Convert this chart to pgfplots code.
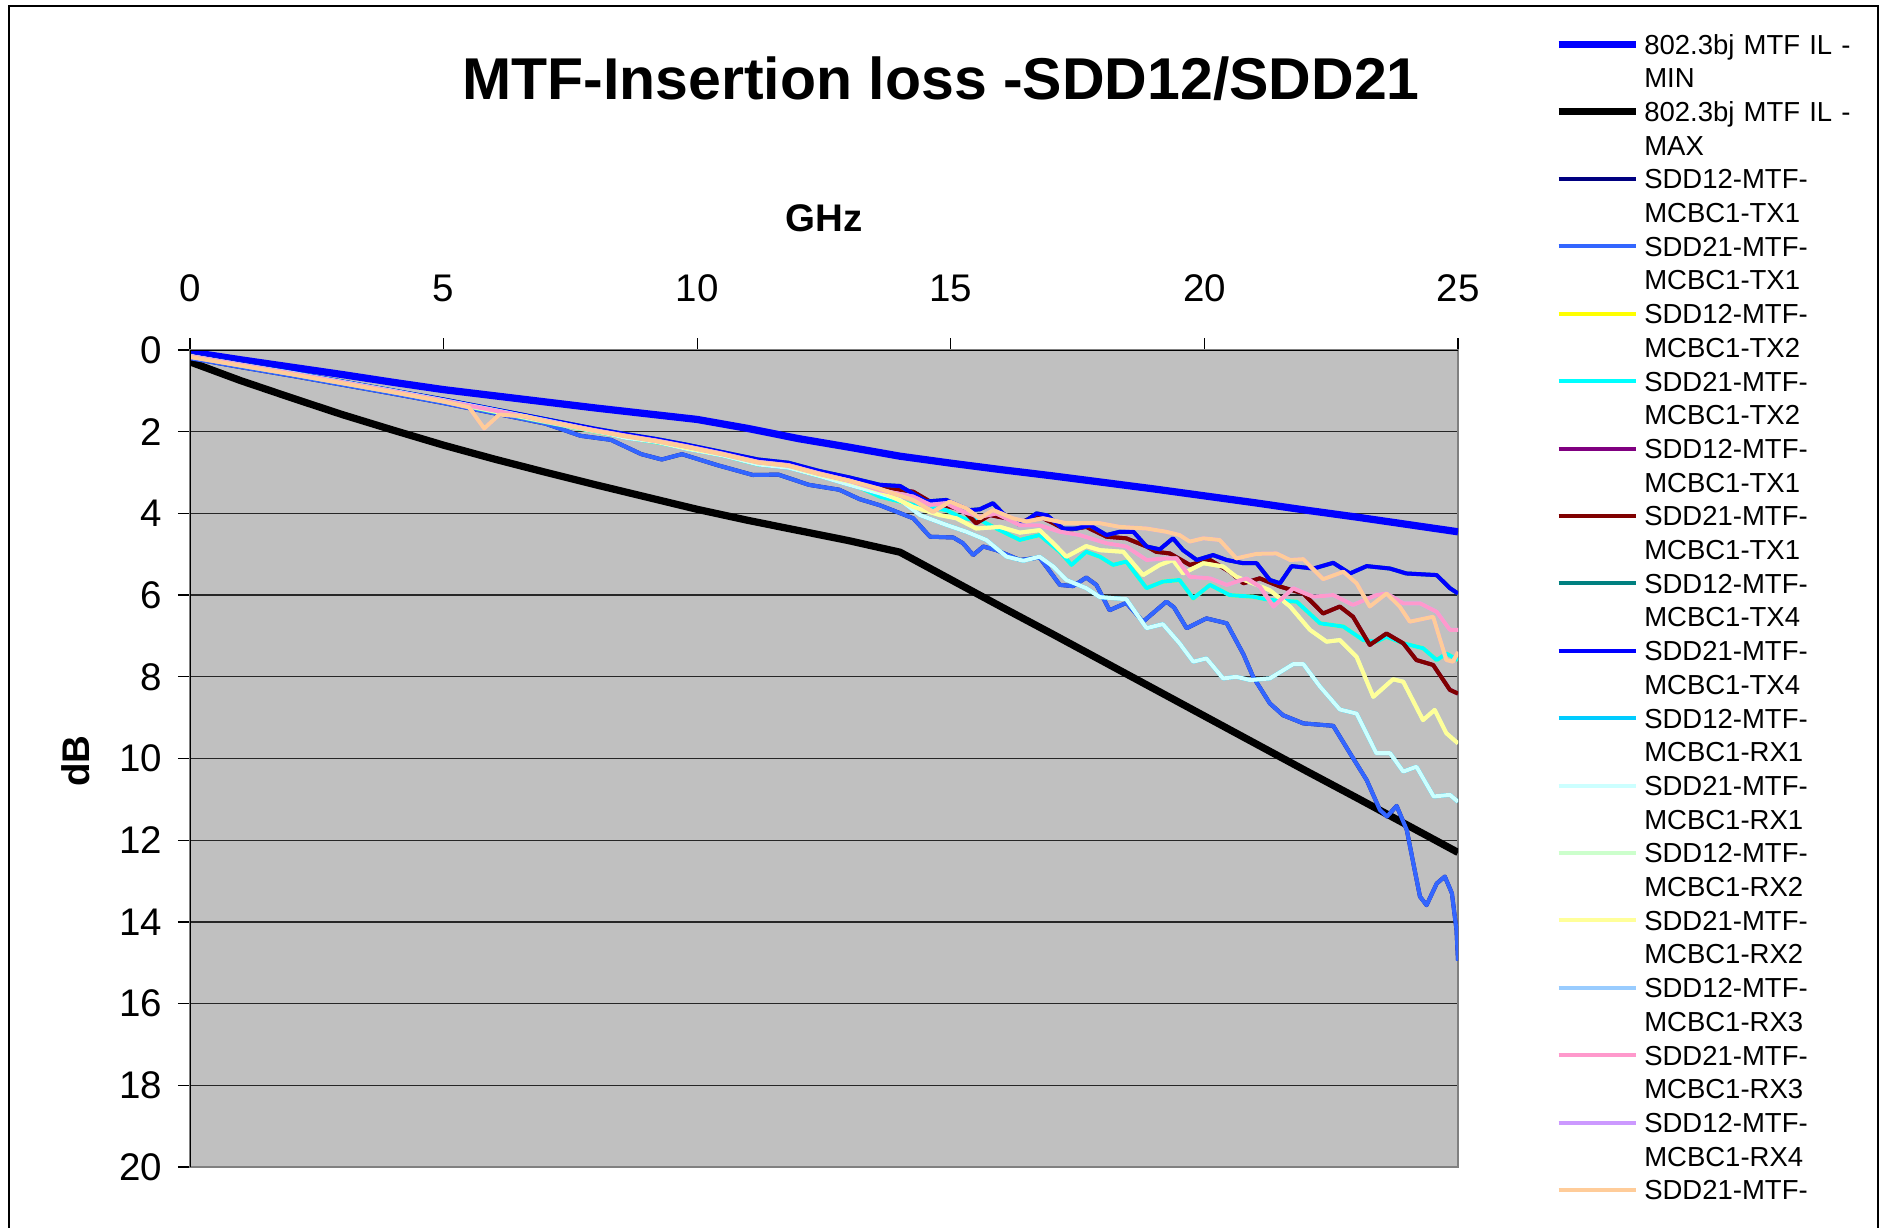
\documentclass[border=0pt]{standalone}
\usepackage{pgfplots}
\pgfplotsset{compat=1.18}
\usepackage{pgfplotstable}
\usepackage{fontspec}
\setmainfont{Liberation Sans}

\definecolor{plotgray}{HTML}{C0C0C0}
\definecolor{framegray}{HTML}{808080}
\definecolor{cMin}{HTML}{0000FF}
\definecolor{cNavy}{HTML}{000080}
\definecolor{cRoyal}{HTML}{3366FF}
\definecolor{cYellow}{HTML}{FFFF00}
\definecolor{cCyan}{HTML}{00FFFF}
\definecolor{cPurple}{HTML}{800080}
\definecolor{cDarkRed}{HTML}{800000}
\definecolor{cTeal}{HTML}{008080}
\definecolor{cBlue}{HTML}{0000FF}
\definecolor{cSky}{HTML}{00CCFF}
\definecolor{cLtCyan}{HTML}{CCFFFF}
\definecolor{cLtGreen}{HTML}{CCFFCC}
\definecolor{cLtYellow}{HTML}{FFFF99}
\definecolor{cPaleBlue}{HTML}{99CCFF}
\definecolor{cRose}{HTML}{FF99CC}
\definecolor{cLavender}{HTML}{CC99FF}
\definecolor{cTan}{HTML}{FFCC99}

% 802.3bj limit lines
\pgfplotstableread{
f  min  max
0  0.05 0.29
1  0.24 0.75
2  0.42 1.17
3  0.60 1.58
4  0.79 1.96
5  0.97 2.33
6  1.12 2.67
7  1.27 2.99
8  1.42 3.30
9  1.56 3.60
10 1.70 3.90
11 1.92 4.17
12 2.17 4.42
13 2.38 4.67
14 2.60 4.95
15 2.77 5.62
16 2.93 6.29
17 3.08 6.95
18 3.24 7.62
19 3.40 8.29
20 3.57 8.96
21 3.74 9.63
22 3.92 10.30
23 4.09 10.96
24 4.27 11.63
25 4.45 12.30
}\limits

% SDD21-TX1 (SDD12-TX1 lies under it)
\pgfplotstableread{
f v
0 0.20
1 0.42
2 0.63
3 0.85
4 1.07
5 1.30
6 1.55
7 1.80
7.7 2.10
8.3 2.20
8.9 2.55
9.3 2.68
9.7 2.55
10.4 2.82
11.1 3.06
11.6 3.05
12.2 3.30
12.8 3.42
13.2 3.65
13.6 3.80
14.26 4.12
14.59 4.57
15.05 4.59
15.24 4.73
15.44 5.02
15.64 4.81
15.9 4.90
16.36 5.14
16.75 5.08
17.15 5.75
17.41 5.78
17.67 5.57
17.87 5.75
18.13 6.37
18.46 6.19
18.79 6.65
19.25 6.16
19.4 6.30
19.65 6.81
20.04 6.57
20.44 6.69
20.77 7.45
20.96 8.00
21.29 8.65
21.55 8.94
21.95 9.14
22.54 9.20
22.87 9.87
23.2 10.53
23.46 11.26
23.6 11.42
23.79 11.16
23.99 11.75
24.12 12.57
24.25 13.38
24.38 13.59
24.58 13.06
24.74 12.89
24.88 13.30
24.97 14.20
25 14.95
}\royal

% SDD21-TX2 (SDD12-TX2 lies under it)
\pgfplotstableread{
f v
0 0.16
1 0.38
2 0.59
3 0.81
4 1.03
5 1.26
6 1.51
7 1.76
8 2.00
8.6 2.14
9.2 2.26
9.8 2.40
10.5 2.58
11.2 2.80
11.8 2.86
12.4 3.08
13.0 3.25
13.6 3.59
14.26 3.79
14.91 3.92
15.24 4.12
15.57 4.16
15.9 4.37
16.36 4.65
16.75 4.53
17.15 4.94
17.38 5.26
17.67 4.94
17.94 5.06
18.2 5.26
18.46 5.18
18.86 5.83
19.18 5.67
19.51 5.63
19.78 6.08
20.11 5.75
20.5 6.00
20.96 6.04
21.29 6.12
21.82 6.16
22.28 6.69
22.74 6.77
23.13 7.10
23.39 7.14
23.59 7.02
23.92 7.18
24.31 7.30
24.58 7.59
24.77 7.43
25 7.59
}\cyantx

% SDD21-TX1 second pair (dark red over purple)
\pgfplotstableread{
f v
0 0.14
1 0.35
2 0.56
3 0.78
4 1.00
5 1.22
6 1.46
7 1.70
8 1.95
8.6 2.08
9.2 2.20
9.8 2.34
10.5 2.52
11.2 2.70
11.8 2.78
12.4 2.98
13.0 3.15
13.6 3.35
14.26 3.47
14.59 3.71
15.24 3.92
15.5 4.24
15.77 4.04
16.1 4.12
16.43 4.20
16.69 4.04
17.02 4.24
17.28 4.41
17.67 4.33
18.07 4.57
18.46 4.61
18.86 4.81
19.05 4.94
19.32 4.98
19.71 5.26
20.11 5.14
20.5 5.43
20.77 5.71
21.09 5.59
21.49 5.79
21.95 5.96
22.34 6.45
22.67 6.28
22.93 6.53
23.26 7.22
23.59 6.94
23.92 7.18
24.18 7.59
24.51 7.71
24.84 8.32
25 8.41
}\darkred

% SDD21-TX4 (SDD12-TX4 lies under it)
\pgfplotstableread{
f v
0 0.13
1 0.34
2 0.55
3 0.77
4 0.99
5 1.21
6 1.45
7 1.69
8 1.93
8.6 2.06
9.2 2.18
9.8 2.32
10.5 2.50
11.2 2.68
11.8 2.76
12.4 2.96
13.0 3.12
13.6 3.30
14.0 3.33
14.52 3.71
14.91 3.67
15.37 3.92
15.57 3.90
15.83 3.75
16.03 4.00
16.36 4.29
16.69 4.00
16.9 4.05
17.21 4.37
17.48 4.37
17.74 4.29
18.07 4.53
18.33 4.45
18.6 4.45
18.86 4.81
19.12 4.88
19.38 4.61
19.58 4.90
19.85 5.14
20.17 5.02
20.44 5.14
20.77 5.22
21.03 5.22
21.29 5.63
21.49 5.71
21.72 5.29
22.15 5.35
22.54 5.21
22.87 5.47
23.2 5.29
23.66 5.35
23.98 5.47
24.58 5.51
24.84 5.83
25 5.96
}\bluetx

% SDD21-RX1 (SDD12-RX1 lies under it)
\pgfplotstableread{
f v
0 0.15
1 0.36
2 0.56
3 0.78
4 1.00
5 1.23
6 1.47
7 1.72
8 1.98
8.6 2.15
9.2 2.25
9.8 2.42
10.5 2.58
11.2 2.80
11.8 2.88
12.4 3.08
13.0 3.30
13.6 3.51
14.0 3.67
14.39 4.04
14.91 4.28
15.31 4.45
15.7 4.65
16.1 5.06
16.43 5.16
16.75 5.06
17.02 5.30
17.28 5.63
17.67 5.83
17.94 6.05
18.46 6.10
18.86 6.81
19.18 6.71
19.51 7.18
19.78 7.63
20.04 7.55
20.37 8.04
20.63 8.00
20.9 8.08
21.29 8.04
21.75 7.69
21.95 7.69
22.28 8.24
22.67 8.80
23.0 8.90
23.39 9.87
23.66 9.87
23.92 10.32
24.18 10.20
24.52 10.93
24.84 10.89
25 11.06
}\ltcyan

% SDD21-RX2 (SDD12-RX2 lies under it)
\pgfplotstableread{
f v
0 0.15
1 0.37
2 0.58
3 0.80
4 1.02
5 1.25
6 1.50
7 1.75
8 1.99
8.6 2.12
9.2 2.24
9.8 2.40
10.5 2.56
11.2 2.76
11.8 2.84
12.4 3.05
13.0 3.22
13.6 3.45
14.26 3.84
14.78 4.04
15.11 4.12
15.5 4.37
15.97 4.33
16.36 4.47
16.75 4.41
17.02 4.73
17.28 5.06
17.67 4.80
17.94 4.90
18.4 4.94
18.79 5.51
19.12 5.26
19.38 5.14
19.58 5.47
19.98 5.22
20.37 5.30
20.63 5.55
21.03 5.75
21.29 5.88
21.69 6.28
22.08 6.85
22.41 7.14
22.67 7.10
23.0 7.51
23.33 8.49
23.72 8.06
23.92 8.12
24.31 9.06
24.54 8.81
24.77 9.38
25 9.63
}\ltyellow

% SDD21-RX3 (SDD12-RX3 lies under it)
\pgfplotstableread{
f v
0 0.15
1 0.36
2 0.57
3 0.79
4 1.01
5 1.24
6 1.48
7 1.73
8 1.97
8.6 2.10
9.2 2.22
9.8 2.36
10.5 2.54
11.2 2.74
11.8 2.82
12.4 3.02
13.0 3.20
13.6 3.43
14.26 3.59
14.59 3.79
14.91 3.75
15.24 3.96
15.57 4.08
15.9 4.00
16.36 4.29
16.75 4.29
17.15 4.45
17.54 4.53
18.07 4.73
18.46 4.81
18.86 5.14
19.25 5.10
19.45 5.10
19.71 5.55
20.11 5.59
20.44 5.75
20.83 5.59
21.09 5.79
21.36 6.28
21.75 5.83
22.15 6.04
22.54 6.00
22.93 6.24
23.39 6.00
23.59 5.96
23.92 6.20
24.25 6.20
24.58 6.41
24.84 6.85
25 6.85
}\rose

% SDD21-RX4 (SDD12-RX4 lies under it)
\pgfplotstableread{
f v
0 0.17
1 0.38
2 0.59
3 0.81
4 1.03
5 1.26
5.5 1.40
5.8 1.92
6.1 1.58
6.6 1.62
7 1.74
8 1.98
8.6 2.11
9.2 2.23
9.8 2.37
10.5 2.55
11.2 2.75
11.8 2.83
12.4 3.03
13.0 3.20
13.6 3.40
14.26 3.67
14.65 3.96
14.98 3.71
15.31 3.88
15.57 4.12
15.83 3.92
16.23 4.12
16.49 4.20
16.82 4.12
17.28 4.24
17.94 4.24
18.33 4.33
18.86 4.37
19.25 4.45
19.51 4.53
19.71 4.69
19.98 4.61
20.3 4.65
20.63 5.10
21.03 4.99
21.42 4.98
21.69 5.14
21.95 5.12
22.34 5.61
22.74 5.43
23.0 5.71
23.26 6.28
23.59 5.96
23.85 6.28
24.05 6.65
24.51 6.53
24.77 7.59
24.9 7.63
25 7.39
}\tan

\begin{document}
\begin{tikzpicture}
  \useasboundingbox (0,0) rectangle (754pt,-491.2pt);
  \clip (0,0) rectangle (754pt,-491.2pt);
  \fill[white] (0,0) rectangle (754pt,-491.2pt);
  \draw[black, line width=0.5pt] (3.6pt,-500pt) -- (3.6pt,-2.4pt) -- (751.2pt,-2.4pt) -- (751.2pt,-500pt);
  \begin{axis}[
    at={(76pt,-140pt)}, anchor=north west,
    scale only axis, width=507.2pt, height=326.8pt,
    xmin=0, xmax=25, ymin=0, ymax=20, y dir=reverse,
    xtick={0,5,...,25}, ytick={0,2,...,20},
    xtick pos=right, xticklabel pos=right, ytick pos=left,
    tick align=outside, major tick length=4.8pt,
    tick style={black, line width=0.5pt},
    axis background/.style={fill=plotgray},
    axis line style={framegray, line width=0.9pt},
    ymajorgrids, major grid style={black!85, line width=0.5pt},
    /pgf/number format/assume math mode=true,
    ticklabel style={font=\fontsize{15.4}{18}\selectfont},
    xticklabel style={yshift=11pt},
    yticklabel style={xshift=-2.9pt},
    title={MTF-Insertion loss -SDD12/SDD21},
    title style={at={(axis description cs:0.5923,1.3317)}, anchor=center, yshift=-6pt, font=\bfseries\fontsize{23.6}{28}\selectfont},
    xlabel={GHz},
    xlabel style={at={(axis description cs:0.5,1.1616)}, anchor=center, font=\bfseries\fontsize{15.4}{18}\selectfont},
    ylabel={dB},
    ylabel style={at={(axis description cs:-0.0899,0.497)}, anchor=center, font=\bfseries\fontsize{15.4}{18}\selectfont},
    legend image code/.code={\draw[#1, yshift=3.9pt] (0pt,0pt) -- (30.8pt,0pt);},
    legend style={at={(axis description cs:1.0765,1.3868)}, anchor=north west,
      draw=none, fill=none, inner sep=0pt, outer sep=0pt, row sep=0pt,
      font=\fontsize{11}{13.5}\selectfont,
      cells={anchor=base west},
      nodes={text width=100pt, align=left, inner sep=0pt, text height=8pt, text depth=18.96pt},
      /tikz/every odd column/.append style={column sep=2pt}},
    every axis plot/.append style={line width=1.6pt, line join=round},
  ]
    \addplot[cMin, line width=2.9pt] table[x=f, y=min]{\limits};
    \addlegendentry{802.3bj MTF IL -\\MIN}
    \addplot[black, line width=2.9pt] table[x=f, y=max]{\limits};
    \addlegendentry{802.3bj MTF IL -\\MAX}
    \addplot[cNavy] table[x=f, y=v]{\royal};
    \addlegendentry{SDD12-MTF-\\MCBC1-TX1}
    \addplot[cRoyal] table[x=f, y=v]{\royal};
    \addlegendentry{SDD21-MTF-\\MCBC1-TX1}
    \addplot[cYellow] table[x=f, y=v]{\cyantx};
    \addlegendentry{SDD12-MTF-\\MCBC1-TX2}
    \addplot[cCyan] table[x=f, y=v]{\cyantx};
    \addlegendentry{SDD21-MTF-\\MCBC1-TX2}
    \addplot[cPurple] table[x=f, y=v]{\darkred};
    \addlegendentry{SDD12-MTF-\\MCBC1-TX1}
    \addplot[cDarkRed] table[x=f, y=v]{\darkred};
    \addlegendentry{SDD21-MTF-\\MCBC1-TX1}
    \addplot[cTeal] table[x=f, y=v]{\bluetx};
    \addlegendentry{SDD12-MTF-\\MCBC1-TX4}
    \addplot[cBlue] table[x=f, y=v]{\bluetx};
    \addlegendentry{SDD21-MTF-\\MCBC1-TX4}
    \addplot[cSky] table[x=f, y=v]{\ltcyan};
    \addlegendentry{SDD12-MTF-\\MCBC1-RX1}
    \addplot[cLtCyan] table[x=f, y=v]{\ltcyan};
    \addlegendentry{SDD21-MTF-\\MCBC1-RX1}
    \addplot[cLtGreen] table[x=f, y=v]{\ltyellow};
    \addlegendentry{SDD12-MTF-\\MCBC1-RX2}
    \addplot[cLtYellow] table[x=f, y=v]{\ltyellow};
    \addlegendentry{SDD21-MTF-\\MCBC1-RX2}
    \addplot[cPaleBlue] table[x=f, y=v]{\rose};
    \addlegendentry{SDD12-MTF-\\MCBC1-RX3}
    \addplot[cRose] table[x=f, y=v]{\rose};
    \addlegendentry{SDD21-MTF-\\MCBC1-RX3}
    \addplot[cLavender] table[x=f, y=v]{\tan};
    \addlegendentry{SDD12-MTF-\\MCBC1-RX4}
    \addplot[cTan] table[x=f, y=v]{\tan};
    \addlegendentry{SDD21-MTF-}
    \draw[black, line width=0.6pt] (axis cs:0,20) -- (axis cs:0,0) -- (axis cs:25,0);
  \end{axis}
\end{tikzpicture}
\end{document}
